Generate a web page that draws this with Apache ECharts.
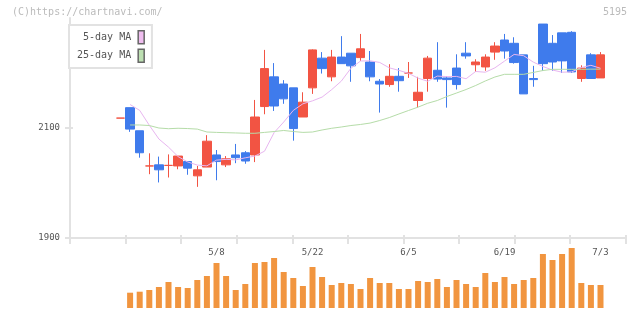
<!DOCTYPE html>
<html>
<head>
<meta charset="utf-8">
<script src="https://cdn.jsdelivr.net/npm/echarts@6/dist/echarts.min.js"></script>
<style>
  html, body { margin: 0; padding: 0; background: #fff; }
  #chart { width: 640px; height: 311px; }
</style>
</head>
<body>
<div id="chart"></div>
<script>
// trading days (2023), first one only as previous close
const dates = ["4/19", "4/20", "4/21", "4/24", "4/25", "4/26", "4/27", "4/28", "5/1", "5/2",
  "5/8", "5/9", "5/10", "5/11", "5/12", "5/15", "5/16", "5/17", "5/18", "5/19",
  "5/22", "5/23", "5/24", "5/25", "5/26", "5/29", "5/30", "5/31", "6/1", "6/2",
  "6/5", "6/6", "6/7", "6/8", "6/9", "6/12", "6/13", "6/14", "6/15", "6/16",
  "6/19", "6/20", "6/21", "6/22", "6/23", "6/26", "6/27", "6/28", "6/29", "6/30", "7/3"]
const tickLabels = ["5/8", "5/22", "6/5", "6/19", "7/3"]
const priceTicks = [1900, 2100]

const open = [2118, 2137, 2095, 2031, 2033, 2032, 2031, 2039, 2013, 2029, 2051, 2033, 2051, 2055, 2051, 2139, 2193, 2180, 2173, 2120,
  2173, 2227, 2193, 2229, 2236, 2228, 2220, 2185, 2179, 2194, 2200, 2150, 2190, 2205, 2191, 2209, 2236, 2215, 2211, 2238,
  2260, 2254, 2233, 2190, 2289, 2254, 2273, 2274, 2190, 2233, 2191]
const close = [2118, 2098, 2055, 2031, 2024, 2032, 2049, 2027, 2024, 2076, 2039, 2044, 2046, 2040, 2120, 2208, 2140, 2153, 2099, 2147,
  2242, 2208, 2229, 2217, 2213, 2244, 2193, 2180, 2194, 2186, 2200, 2165, 2227, 2189, 2188, 2179, 2231, 2220, 2229, 2249,
  2240, 2219, 2162, 2188, 2217, 2220, 2222, 2202, 2209, 2190, 2233]
const low = [2118, 2093, 2046, 2016, 2001, 2010, 2025, 2015, 1993, 2029, 2005, 2029, 2036, 2035, 2038, 2125, 2131, 2144, 2077, 2120,
  2162, 2199, 2185, 2217, 2184, 2222, 2185, 2128, 2175, 2166, 2191, 2137, 2166, 2184, 2137, 2170, 2226, 2202, 2204, 2224,
  2226, 2217, 2162, 2175, 2204, 2204, 2200, 2200, 2184, 2190, 2191]
const high = [2118, 2137, 2095, 2054, 2048, 2052, 2049, 2040, 2031, 2087, 2060, 2049, 2071, 2058, 2151, 2242, 2218, 2187, 2173, 2165,
  2243, 2238, 2242, 2267, 2236, 2271, 2240, 2189, 2216, 2209, 2220, 2193, 2231, 2256, 2194, 2234, 2256, 2225, 2234, 2256,
  2271, 2265, 2233, 2213, 2289, 2269, 2273, 2276, 2214, 2236, 2238]

const ma5 = ["-", 2142.7, 2132, 2105, 2080, 2065.2, 2048, 2038.2, 2032.6, 2031.2, 2041.6, 2043, 2042, 2045.8, 2049, 2057.8,
  2091.6, 2110.8, 2132, 2144, 2149.4, 2156.2, 2169.8, 2185.2, 2208.6, 2221.8, 2222.2, 2219.2, 2209.4, 2204.8, 2199.4,
  2190.6, 2185, 2194.4, 2193.4, 2193.8, 2189.6, 2202.8, 2201.4, 2209.4, 2221.6, 2233.8, 2231.4, 2219.8, 2211.8, 2205.4,
  2201.4, 2202, 2210, 2214, 2208.6]
const ma25 = ["-", 2105.5, 2105.5, 2104.5, 2100, 2098.7, 2099.5, 2099, 2098, 2092.7, 2092, 2091.5, 2091, 2090.4, 2090.4, 2092,
  2093.6, 2095.5, 2093.6, 2092, 2092.7, 2096.4, 2099.5, 2101.8, 2104.5, 2106.4, 2109, 2113.6, 2119, 2125.5, 2131.8,
  2138, 2145, 2150, 2157.3, 2163.6, 2170, 2177.3, 2185.5, 2192.7, 2197.6, 2197.6, 2197.6, 2201, 2204.5, 2206.7,
  2206.7, 2206.7, 2206.7, 2207, 2207]

const volume = ["-", 15300, 16300, 18000, 21000, 26000, 21000, 20000, 28000, 32000, 45000, 32000, 18000, 24000, 45000, 46000,
  50000, 36000, 30000, 22000, 41000, 31000, 23000, 25000, 24000, 19000, 30000, 25000, 25000, 19000, 19000,
  27000, 26000, 29000, 21000, 28000, 24000, 21000, 35000, 26000, 31000, 24000, 28000, 30000, 54000, 48000,
  54000, 60000, 25000, 23000, 23000]

const FONT = "DejaVu Sans Mono"
const UP = "#f25443"
const DOWN = "#3f7bec"
const AXIS = "#e2e2e2"

const chart = echarts.init(document.getElementById("chart"), null, { renderer: "canvas" })

const candles = dates.map((d, i) => [open[i], close[i], low[i], high[i]])

const option = {
  animation: false,
  backgroundColor: "#fff",
  graphic: [
    { type: "text", left: 12, top: 7, style: { text: "(C)https://chartnavi.com/", font: "10px '" + FONT + "'", fill: "#bbb" } },
    { type: "text", right: 13, top: 7, style: { text: "5195", font: "10px '" + FONT + "'", fill: "#bbb" } },
  ],
  legend: {
    orient: "vertical",
    left: 69,
    top: 25,
    padding: [5, 7, 5, 8],
    itemGap: 4,
    itemWidth: 6,
    itemHeight: 13,
    align: "right",
    icon: "rect",
    backgroundColor: "#fff",
    borderColor: "#e2e2e2",
    borderWidth: 2,
    formatter: (name) => name.padStart(9, " "),
    textStyle: { fontFamily: FONT, fontSize: 10, color: "#555", padding: [0, 2, 0, 0] },
    itemStyle: { borderColor: "#666", borderWidth: 1.5 },
    data: [
      { name: "5-day MA", itemStyle: { color: "#efbdef" } },
      { name: "25-day MA", itemStyle: { color: "#bde0b2" } },
    ],
  },
  grid: [
    { left: 70, right: 14.3, top: 18, height: 220 },
    { left: 115.7, right: 34.7, top: 18, height: 220 },
    { left: 115.7, right: 34.7, top: 246, height: 62 },
  ],
  xAxis: [
    {
      gridIndex: 0, type: "value", min: 0, max: 10, interval: 1, position: "bottom",
      axisLine: { lineStyle: { color: AXIS, width: 2 } },
      axisTick: { length: 6, lineStyle: { color: AXIS, width: 2 } },
      axisLabel: { show: false },
      splitLine: { show: false },
    },
    {
      gridIndex: 0, type: "value", min: 0, max: 10, interval: 1, position: "bottom",
      axisLine: { show: false },
      axisTick: { inside: true, length: 3, lineStyle: { color: AXIS, width: 2 } },
      axisLabel: { show: false },
      splitLine: { show: false },
    },
    {
      gridIndex: 1, type: "category", data: dates, position: "bottom",
      axisLine: { show: false },
      axisTick: { show: false },
      axisLabel: {
        interval: (idx, val) => tickLabels.includes(val),
        margin: 10,
        fontFamily: FONT, fontSize: 9, color: "#555",
      },
      splitLine: { show: false },
    },
    { gridIndex: 2, type: "category", data: dates, show: false },
  ],
  yAxis: [
    {
      gridIndex: 0, type: "value", min: 1900, max: 2300, interval: 200, position: "left",
      axisLine: { show: true, lineStyle: { color: AXIS, width: 2 } },
      axisTick: { show: true, length: 5, customValues: priceTicks, lineStyle: { color: AXIS, width: 2 } },
      axisLabel: {
        customValues: priceTicks, margin: 10, fontFamily: FONT, fontSize: 9, color: "#555",
        formatter: (v) => String(v),
      },
      splitLine: { show: false },
    },
    {
      gridIndex: 0, type: "value", min: 1900, max: 2300, interval: 200, position: "left",
      axisLine: { show: false },
      axisTick: { show: true, inside: true, length: 3, customValues: priceTicks, lineStyle: { color: AXIS, width: 2 } },
      axisLabel: { show: false },
      splitLine: { show: false },
    },
    { gridIndex: 1, type: "value", min: 1900, max: 2300, show: false },
    { gridIndex: 2, type: "value", min: 0, max: 62000, show: false },
  ],
  series: [
    {
      name: "5-day MA", type: "line", xAxisIndex: 2, yAxisIndex: 2, data: ma5,
      showSymbol: false, color: "#e8b6f0", lineStyle: { width: 1, color: "#e8b6f0" },
    },
    {
      name: "25-day MA", type: "line", xAxisIndex: 2, yAxisIndex: 2, data: ma25,
      showSymbol: false, color: "#b5dca8", lineStyle: { width: 1, color: "#b5dca8" },
    },
    {
      name: "price", type: "candlestick", xAxisIndex: 2, yAxisIndex: 2, data: candles,
      barWidth: 9,
      itemStyle: {
        color: UP, color0: DOWN, borderColor: UP, borderColor0: DOWN, borderColorDoji: UP, borderWidth: 1,
      },
    },
    {
      name: "volume", type: "bar", xAxisIndex: 3, yAxisIndex: 3, data: volume,
      barWidth: 6, itemStyle: { color: "#f1953f" },
    },
  ],
}

chart.setOption(option)
</script>
</body>
</html>
